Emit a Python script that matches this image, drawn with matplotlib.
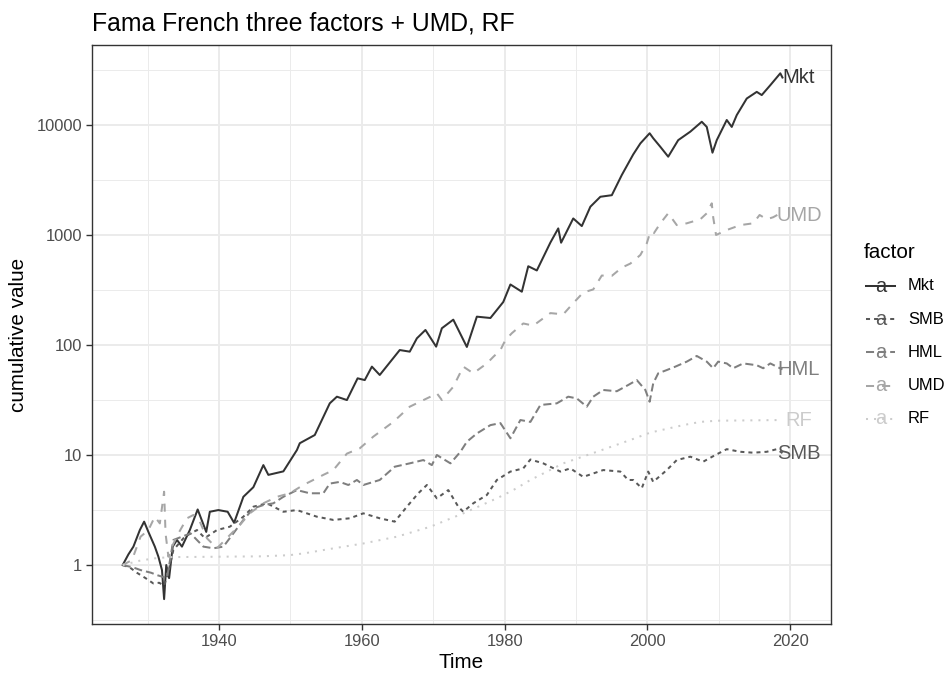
import matplotlib
matplotlib.use("Agg")
import matplotlib.pyplot as plt
from matplotlib.lines import Line2D
from matplotlib.ticker import FixedLocator, NullFormatter

plt.rcParams["font.family"] = ["Liberation Sans", "DejaVu Sans"]

# cumulative value of $1 invested (decimal years)
mkt_years = [1926.5, 1927.3, 1928.0, 1928.9, 1929.5, 1930.1, 1931.0, 1931.5, 1932.0, 1932.3,
             1932.6, 1933.0, 1933.5, 1934.1, 1934.8, 1935.9, 1937.0, 1938.2, 1938.7, 1939.9,
             1941.2, 1942.1, 1943.4, 1944.8, 1946.2, 1946.9, 1949.0, 1950.9, 1951.3, 1953.4,
             1955.5, 1956.5, 1957.9, 1959.4, 1960.4, 1961.4, 1962.5, 1965.3, 1966.7, 1967.7,
             1968.9, 1970.4, 1971.2, 1972.8, 1974.7, 1976.1, 1978.0, 1979.8, 1980.8, 1982.4,
             1983.3, 1984.5, 1986.4, 1987.5, 1987.9, 1989.6, 1990.8, 1992.0, 1993.4, 1995.0,
             1996.4, 1998.0, 1999.0, 2000.3, 2000.8, 2001.8, 2002.9, 2004.3, 2006.0, 2007.6,
             2008.3, 2009.1, 2009.7, 2011.1, 2011.8, 2012.5, 2013.9, 2015.3, 2016.0, 2017.2,
             2018.6, 2018.9]
mkt_vals = [1.0, 1.25, 1.47, 2.08, 2.48, 2.0, 1.47, 1.19, 0.9, 0.49,
            1.0, 0.76, 1.47, 1.69, 1.47, 2.08, 3.2, 2.0, 3.05, 3.16,
            3.05, 2.42, 4.17, 5.1, 8.1, 6.6, 7.1, 11.1, 12.8, 15.2,
            29.5, 33.9, 31.6, 49.8, 48, 63.6, 53.4, 90, 87, 115,
            137, 96.6, 142, 170, 96, 181, 176, 246, 355, 305,
            520, 476, 854, 1148, 851, 1414, 1205, 1808, 2226, 2300,
            3510, 5400, 6800, 8410, 7580, 6330, 5150, 7280, 8700, 10700,
            9600, 5600, 7280, 11100, 9600, 12300, 17400, 20000, 18700, 23000,
            29500, 27000]

smb_years = [1926.5, 1927.5, 1928.5, 1929.7, 1930.8, 1931.6, 1932.3, 1932.9, 1933.6, 1935.2,
             1936.9, 1938.0, 1939.7, 1941.5, 1943.4, 1944.8, 1946.7, 1949.0, 1950.9, 1953.7,
             1956.0, 1958.3, 1960.2, 1962.5, 1964.6, 1966.3, 1967.9, 1969.1, 1970.5, 1972.1,
             1973.5, 1974.2, 1975.6, 1977.5, 1978.9, 1980.8, 1982.6, 1983.6, 1985.4, 1987.8,
             1989.2, 1991.0, 1993.8, 1996.2, 1997.3, 1998.0, 1999.2, 2000.1, 2000.8, 2002.7,
             2004.1, 2006.0, 2007.8, 2009.5, 2011.1, 2013.0, 2014.8, 2016.7, 2018.1, 2018.9]
smb_vals = [1.0, 0.95, 0.85, 0.76, 0.68, 0.69, 0.65, 0.87, 1.37, 1.81,
            2.08, 1.76, 2.08, 2.23, 2.75, 3.39, 3.64, 3.05, 3.16, 2.75,
            2.57, 2.66, 2.95, 2.66, 2.48, 3.39, 4.49, 5.34, 4.04, 4.8,
            3.39, 3.05, 3.64, 4.33, 5.93, 7.07, 7.56, 9.1, 8.4, 7.07,
            7.56, 6.33, 7.3, 7.07, 5.93, 5.93, 5.0, 7.07, 5.7, 7.3,
            9.0, 9.66, 8.7, 10.0, 11.3, 10.7, 10.5, 10.7, 11.3, 10.4]

hml_years = [1926.5, 1928.0, 1929.0, 1930.5, 1931.3, 1932.7, 1933.6, 1936.0, 1937.8, 1939.2,
             1940.6, 1942.0, 1943.4, 1944.8, 1946.2, 1947.6, 1949.0, 1950.9, 1952.7, 1954.6,
             1955.5, 1956.9, 1958.1, 1959.3, 1960.2, 1962.5, 1964.6, 1966.7, 1968.6, 1969.8,
             1970.5, 1972.4, 1973.8, 1974.7, 1976.1, 1978.0, 1979.4, 1980.8, 1982.2, 1983.6,
             1985.0, 1987.3, 1988.9, 1990.1, 1991.5, 1992.4, 1993.8, 1995.7, 1997.3, 1998.5,
             1999.7, 2000.3, 2000.8, 2001.5, 2002.7, 2003.9, 2005.5, 2006.9, 2008.3, 2009.2,
             2009.9, 2011.1, 2012.0, 2013.4, 2015.3, 2016.2, 2017.2, 2018.1, 2018.9]
hml_vals = [1.0, 0.95, 0.9, 0.85, 0.81, 0.76, 1.69, 1.94, 1.47, 1.42,
            1.47, 1.94, 2.57, 3.27, 3.51, 3.64, 4.17, 4.8, 4.49, 4.49,
            5.5, 5.7, 5.34, 5.93, 5.34, 5.93, 7.83, 8.4, 9.0, 8.1,
            10.0, 8.4, 10.7, 13.2, 15.7, 18.7, 19.5, 14.2, 20.8, 20.0,
            28.5, 29.5, 33.9, 32.7, 27.5, 33.9, 39.0, 38.0, 43.3, 48.0,
            39.0, 30.5, 44.8, 55.3, 59.2, 63.6, 70.6, 79.5, 70.6, 61.5,
            70.6, 68.0, 61.5, 68.0, 65.5, 61.5, 68.0, 63.6, 60.0]

umd_years = [1926.5, 1927.8, 1929.0, 1930.1, 1931.0, 1931.7, 1932.3, 1932.5, 1932.9, 1933.4,
             1934.3, 1935.5, 1936.4, 1937.3, 1938.3, 1939.7, 1941.5, 1942.9, 1944.3, 1946.2,
             1948.1, 1949.9, 1951.8, 1954.6, 1956.0, 1957.9, 1959.7, 1961.6, 1964.4, 1966.7,
             1969.6, 1970.5, 1971.2, 1972.8, 1974.2, 1975.6, 1977.5, 1978.4, 1979.4, 1980.1,
             1981.0, 1982.6, 1984.0, 1986.4, 1988.2, 1989.6, 1991.0, 1992.4, 1993.6, 1995.0,
             1996.4, 1997.6, 1999.0, 1999.9, 2000.4, 2000.9, 2001.8, 2002.9, 2004.1, 2005.5,
             2007.4, 2008.3, 2009.0, 2009.2, 2009.6, 2011.1, 2013.0, 2014.8, 2015.7, 2016.7,
             2017.6, 2018.6, 2018.9]
umd_vals = [1.0, 1.11, 1.81, 2.08, 2.75, 2.39, 4.64, 1.94, 1.19, 1.47,
            1.94, 2.66, 2.85, 2.48, 1.75, 1.42, 1.87, 2.31, 2.95, 3.64,
            4.17, 4.49, 5.34, 6.6, 7.3, 10.3, 11.5, 14.7, 20.0, 27.5,
            33.9, 36.4, 31.6, 41.7, 63.6, 55.3, 68.0, 78.0, 90.0, 111,
            128, 157, 150, 195, 190, 240, 300, 320, 428, 425,
            505, 550, 658, 840, 1070, 1040, 1277, 1575, 1230, 1277,
            1390, 1575, 1940, 1450, 1000, 1110, 1230, 1277, 1520, 1390,
            1450, 1575, 1500]

rf_years = [1926.5, 1929.0, 1931.0, 1933.0, 1940.0, 1946.0, 1949.9, 1952.0, 1955.5, 1960.2,
            1964.9, 1969.6, 1974.2, 1978.9, 1981.2, 1983.6, 1988.2, 1992.9, 1997.6, 2000.4,
            2005.0, 2007.4, 2009.7, 2018.9]
rf_vals = [1.0, 1.1, 1.15, 1.18, 1.19, 1.2, 1.23, 1.28, 1.40, 1.57,
           1.81, 2.23, 2.95, 4.04, 4.8, 5.93, 8.4, 10.7, 13.7, 16.0,
           18.7, 20.0, 20.5, 20.8]

factors = ["Mkt", "SMB", "HML", "UMD", "RF"]
series = {
    "Mkt": (mkt_years, mkt_vals),
    "SMB": (smb_years, smb_vals),
    "HML": (hml_years, hml_vals),
    "UMD": (umd_years, umd_vals),
    "RF": (rf_years, rf_vals),
}
colors = {"Mkt": "#333333", "SMB": "#595959", "HML": "#7F7F7F", "UMD": "#A6A6A6", "RF": "#CCCCCC"}
dashes = {"Mkt": None, "SMB": (2, 2), "HML": (4, 2), "UMD": (4, 4), "RF": (1, 3)}
label_x = 2021.2

W, H = 947, 675
fig = plt.figure(figsize=(W / 100, H / 100), dpi=100)
ax = fig.add_axes([92 / W, 1 - 624 / H, (831 - 92) / W, (624 - 45) / H])

ax.set_yscale("log")
ax.set_xlim(1922.2, 2025.7)
ax.set_ylim(10 ** -0.536, 10 ** 4.727)

# grid
ax.xaxis.set_major_locator(FixedLocator([1940, 1960, 1980, 2000, 2020]))
ax.xaxis.set_minor_locator(FixedLocator([1930, 1950, 1970, 1990, 2010]))
ax.yaxis.set_major_locator(FixedLocator([1, 10, 100, 1000, 10000]))
ax.yaxis.set_minor_locator(FixedLocator([10 ** (k + 0.5) for k in range(-1, 5)]))
ax.yaxis.set_minor_formatter(NullFormatter())
ax.set_yticklabels(["1", "10", "100", "1000", "10000"])
ax.grid(which="major", color="#EBEBEB", lw=1.4)
ax.grid(which="minor", color="#EBEBEB", lw=0.7)
ax.set_axisbelow(True)

for f in factors:
    x, y = series[f]
    kw = dict(color=colors[f], lw=1.45)
    if dashes[f] is None:
        ax.plot(x, y, **kw)
    else:
        ax.plot(x, y, dashes=dashes[f], **kw)
    ax.text(label_x, y[-1], f, color=colors[f], fontsize=14.5, ha="center", va="center")

for s in ax.spines.values():
    s.set_color("#333333")
    s.set_linewidth(1.0)
ax.tick_params(which="major", length=4, width=1.0, color="#333333",
               labelsize=11.9, labelcolor="#4D4D4D", pad=3)
ax.tick_params(which="minor", length=0)

ax.set_xlabel("Time", fontsize=14.9, labelpad=3)
ax.set_ylabel("cumulative value", fontsize=14.9, labelpad=6)
fig.text(92 / W, 1 - 30 / H, "Fama French three factors + UMD, RF", fontsize=17.8,
         ha="left", va="baseline")

# legend drawn by hand to mimic ggplot keys (line + "a")
fig.text(864 / W, 1 - 252 / H, "factor", fontsize=14.9, ha="left", va="center")
for i, f in enumerate(factors):
    yp = 1 - (286 + i * 33.2) / H
    ln = Line2D([866 / W, 895 / W], [yp, yp], transform=fig.transFigure,
                color=colors[f], lw=1.45)
    if dashes[f] is not None:
        ln.set_dashes(dashes[f])
    fig.add_artist(ln)
    fig.text(880.5 / W, yp, "a", color=colors[f], fontsize=14.5, ha="center", va="center")
    fig.text(908 / W, yp, f, fontsize=11.9, ha="left", va="center")

fig.savefig("out.png", dpi=100)
